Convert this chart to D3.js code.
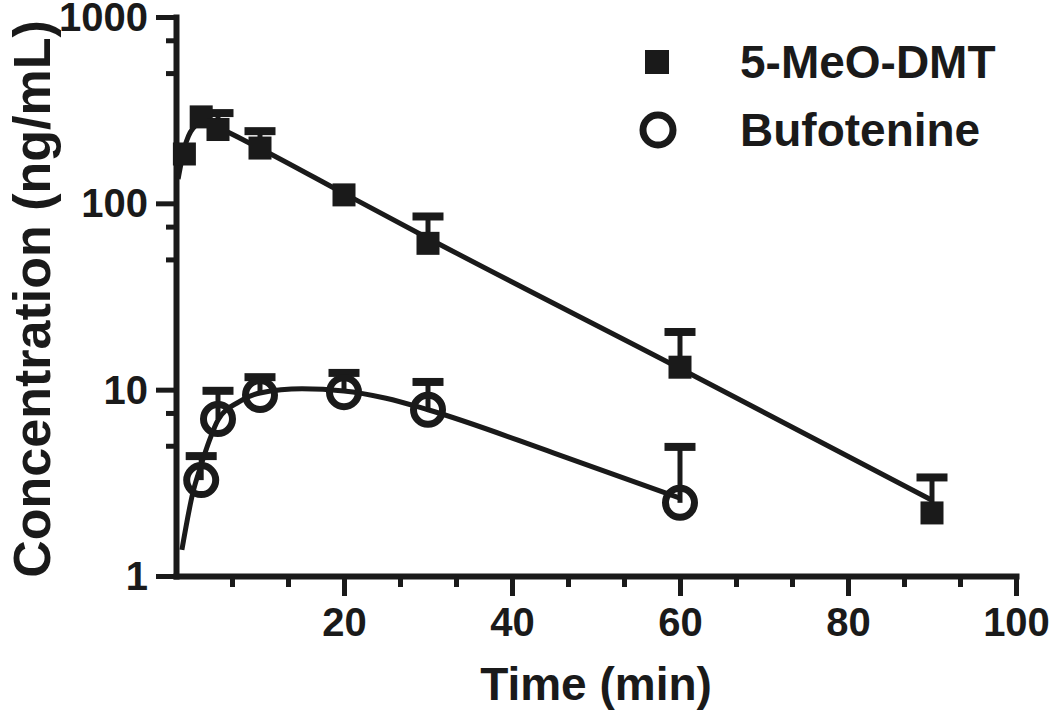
<!DOCTYPE html>
<html>
<head>
<meta charset="utf-8">
<script src="https://cdn.jsdelivr.net/npm/d3@7"></script>
<style>
  body { margin: 0; background: #fff; }
  svg text { font-family: "Liberation Sans", Arial, sans-serif; font-weight: bold; fill: #1a1a1a; }
</style>
</head>
<body>
<div id="chart"></div>
<script>
// data
var meoTimes = [1, 3, 5, 10, 20, 30, 60, 90];
var meoMeans = [184, 291, 249, 198, 111, 61, 13.2, 2.18];
var meoSD = [null, null, 56, 46, null, 24, 7.2, 1.2];

var bufoTimes = [3, 5, 10, 20, 30, 60];
var bufoMeans = [3.27, 6.96, 9.37, 9.7, 7.8, 2.47];
var bufoSD = [1.13, 2.9, 2.3, 2.6, 3.2, 2.46];

// fitted curves
var meoFitT = [0.25, 1, 2, 3, 4, 5, 10, 20, 30, 60, 90];
var meoFitC = [135, 198, 252, 268, 266, 255, 197, 113, 65, 13, 2.55];
var bufoFitT = [0.7, 2, 3, 4, 5, 7.5, 10, 15, 20, 25, 30, 45, 60];
var bufoFitC = [1.38, 2.79, 3.95, 5.37, 6.88, 8.6, 9.6, 10.1, 9.85, 9.0, 7.8, 4.57, 2.62];

var xMajor = [20, 40, 60, 80, 100];
var yMajor = [1, 10, 100, 1000];
var seriesNames = ["5-MeO-DMT", "Bufotenine"];

var ink = "#1a1a1a";
var width = 1050, height = 717;

var svg = d3.select("#chart").append("svg")
  .attr("width", width)
  .attr("height", height);

var x = d3.scaleLinear().domain([0, 100]).range([176, 1016]);
var y = d3.scaleLog().domain([1, 1000]).range([576, 17]);

// minor ticks: thirds between x majors, 0.5 and 0.75 of each y decade
var xMinor = d3.range(1, 15).filter(function(i){ return i % 3 !== 0; })
  .map(function(i){ return i * 20 / 3; });
var yMinor = [];
yMajor.slice(1).forEach(function(d){ yMinor.push(d * 0.75, d * 0.5); });

function styleAxis(g){
  g.selectAll("path.domain").attr("stroke", ink).attr("stroke-width", 6).attr("stroke-linecap", "square");
  g.selectAll(".tick line").attr("stroke", ink).attr("stroke-width", 5);
  g.selectAll(".tick text").attr("font-size", 40).attr("fill", ink)
    .style("font-family", "'Liberation Sans', Arial, sans-serif").style("font-weight", "bold");
}

var gx = svg.append("g").attr("transform", "translate(0," + y(1) + ")");
gx.call(d3.axisBottom(x).tickValues(xMinor).tickSize(11).tickSizeOuter(0).tickFormat(""));
gx.call(styleAxis);
var gx2 = svg.append("g").attr("transform", "translate(0," + y(1) + ")");
gx2.call(d3.axisBottom(x).tickValues(xMajor).tickSize(20).tickSizeOuter(0).tickPadding(12).tickFormat(d3.format("d")));
gx2.select("path.domain").remove();
gx2.call(styleAxis);

var gy = svg.append("g").attr("transform", "translate(" + x(0) + ",0)");
gy.call(d3.axisLeft(y).tickValues(yMinor).tickSize(10).tickSizeOuter(0).tickFormat(""));
gy.call(styleAxis);
var gy2 = svg.append("g").attr("transform", "translate(" + x(0) + ",0)");
gy2.call(d3.axisLeft(y).tickValues(yMajor).tickSize(20).tickSizeOuter(0).tickPadding(8).tickFormat(d3.format("d")));
gy2.select("path.domain").remove();
gy2.call(styleAxis);
gy2.selectAll(".tick text").attr("dy", "0.34em");

// axis titles
svg.append("text")
  .attr("x", (x(0) + x(100)) / 2)
  .attr("y", 700)
  .attr("text-anchor", "middle")
  .attr("font-size", 46)
  .text("Time (min)");

svg.append("text")
  .attr("transform", "translate(50," + 299 + ") rotate(-90)")
  .attr("text-anchor", "middle")
  .attr("font-size", 52)
  .text("Concentration (ng/mL)");

// fitted lines
var line = d3.line()
  .x(function(d){ return x(d[0]); })
  .y(function(d){ return y(d[1]); })
  .curve(d3.curveMonotoneX);

svg.append("path")
  .datum(d3.zip(meoFitT, meoFitC))
  .attr("d", line)
  .attr("fill", "none").attr("stroke", ink).attr("stroke-width", 5);

svg.append("path")
  .datum(d3.zip(bufoFitT, bufoFitC))
  .attr("d", line)
  .attr("fill", "none").attr("stroke", ink).attr("stroke-width", 5);

// error bars (upper only)
function errorBars(times, means, sds){
  var data = d3.zip(times, means, sds).filter(function(d){ return d[2] != null; });
  var g = svg.append("g");
  g.selectAll("line.stem").data(data).enter().append("line")
    .attr("x1", function(d){ return x(d[0]); })
    .attr("x2", function(d){ return x(d[0]); })
    .attr("y1", function(d){ return y(d[1]); })
    .attr("y2", function(d){ return y(d[1] + d[2]); })
    .attr("stroke", ink).attr("stroke-width", 5);
  g.selectAll("line.cap").data(data).enter().append("line")
    .attr("x1", function(d){ return x(d[0]) - 15.5; })
    .attr("x2", function(d){ return x(d[0]) + 15.5; })
    .attr("y1", function(d){ return y(d[1] + d[2]); })
    .attr("y2", function(d){ return y(d[1] + d[2]); })
    .attr("stroke", ink).attr("stroke-width", 8);
}
errorBars(meoTimes, meoMeans, meoSD);
errorBars(bufoTimes, bufoMeans, bufoSD);

// markers
var sq = 23, rad = 14.5;
svg.append("g").selectAll("rect").data(d3.zip(meoTimes, meoMeans)).enter().append("rect")
  .attr("x", function(d){ return x(d[0]) - sq / 2; })
  .attr("y", function(d){ return y(d[1]) - sq / 2; })
  .attr("width", sq).attr("height", sq)
  .attr("fill", ink);

svg.append("g").selectAll("circle").data(d3.zip(bufoTimes, bufoMeans)).enter().append("circle")
  .attr("cx", function(d){ return x(d[0]); })
  .attr("cy", function(d){ return y(d[1]); })
  .attr("r", rad)
  .attr("fill", "none")
  .attr("stroke", ink).attr("stroke-width", 7);

// legend
var legend = svg.append("g");
legend.append("rect").attr("x", 657 - 12).attr("y", 62 - 12).attr("width", 24).attr("height", 24).attr("fill", ink);
legend.append("circle").attr("cx", 658).attr("cy", 130).attr("r", 15).attr("fill", "none").attr("stroke", ink).attr("stroke-width", 7);
legend.selectAll("text").data(seriesNames).enter().append("text")
  .attr("x", 740)
  .attr("y", function(d, i){ return 62 + i * 68; })
  .attr("dy", "0.35em")
  .attr("font-size", 46)
  .text(function(d){ return d; });
</script>
</body>
</html>
